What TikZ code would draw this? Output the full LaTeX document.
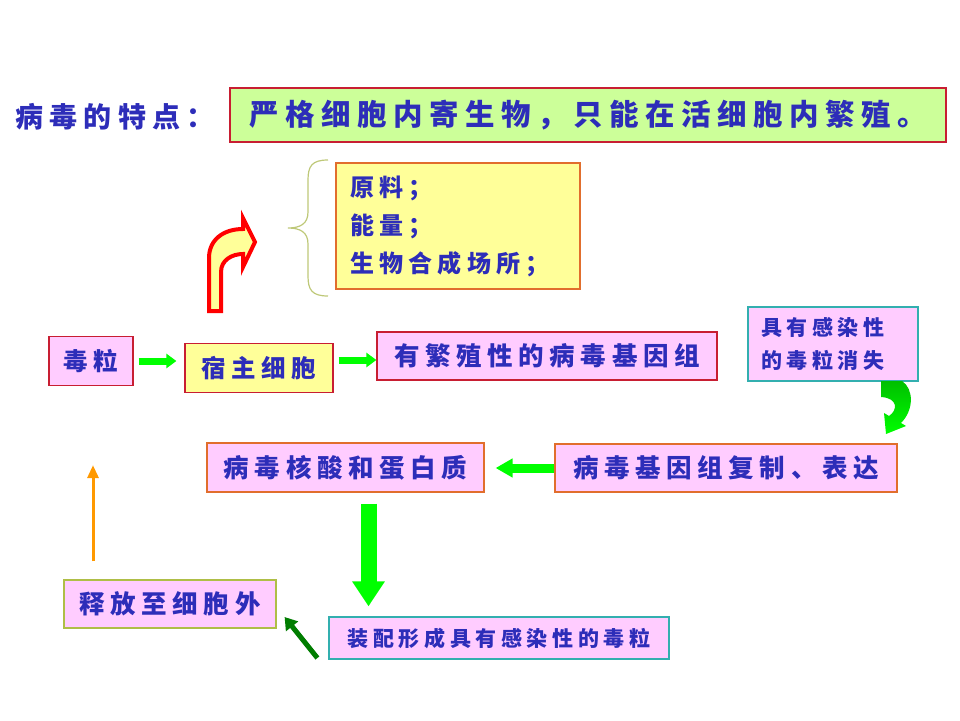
\documentclass[tikz,border=0pt]{standalone}
\usepackage{fontspec}
\newfontfamily\cjk{Noto Sans CJK SC}[LetterSpace=22]
\usetikzlibrary{arrows.meta}
\definecolor{txtblue}{RGB}{45,45,185}
\definecolor{boxpink}{RGB}{255,204,255}
\definecolor{boxyellow}{RGB}{255,255,153}
\definecolor{boxgreen}{RGB}{204,255,153}
\definecolor{edgered}{RGB}{200,30,50}
\definecolor{edgeorange}{RGB}{225,110,45}
\definecolor{edgeteal}{RGB}{50,175,175}
\definecolor{edgeolive}{RGB}{175,190,70}
\definecolor{bracecol}{RGB}{190,200,120}
\definecolor{arrgreen}{RGB}{0,255,0}
\definecolor{arrdark}{RGB}{0,125,0}
\definecolor{arrorange}{RGB}{255,153,0}
\begin{document}
\begin{tikzpicture}[x=1pt,y=-1pt,
  fs/.style={font=\cjk\bfseries\fontsize{#1}{#1}\selectfont},
  box/.style={draw,line width=1.2pt,inner sep=0pt,text=txtblue,fs=25.5},
  pinkbox/.style={box,fill=boxpink},
  yellowbox/.style={box,fill=boxyellow},
  garrow/.style={draw=arrgreen,line width=#1},
  garrow/.default=7pt]
\useasboundingbox (0,0) rectangle (960,720);
\node[text=txtblue,fs=28] (title) at (115,117) {病毒的特点：};
\node[box,fill=boxgreen,draw=edgered,minimum width=716,minimum height=54,fs=29.5] (top) at (588,115) {严格细胞内寄生物，只能在活细胞内繁殖。};
\node[yellowbox,draw=edgeorange,minimum width=244,minimum height=126,text width=216,align=left,font=\cjk\bfseries\fontsize{24}{38}\selectfont] (need) at (458,226) {原料；\\能量；\\生物合成场所；};
\node[pinkbox,draw=edgered,minimum width=84,minimum height=49,fs=24.5] (dl) at (91,361) {毒粒};
\node[yellowbox,draw=edgered,minimum width=148,minimum height=49,fs=24.5] (host) at (259,368) {宿主细胞};
\node[pinkbox,draw=edgered,minimum width=340,minimum height=48] (gen) at (547,356) {有繁殖性的病毒基因组};
\node[pinkbox,draw=edgeteal,minimum width=170,minimum height=74,text width=144,align=left,font=\cjk\bfseries\fontsize{21}{33}\selectfont] (gone) at (833,344) {具有感染性\\的毒粒消失};
\node[pinkbox,draw=edgeorange,minimum width=342,minimum height=48] (rep) at (726,468) {病毒基因组复制、表达};
\node[pinkbox,draw=edgeorange,minimum width=277,minimum height=49] (nuc) at (345.5,467.5) {病毒核酸和蛋白质};
\node[pinkbox,draw=edgeteal,minimum width=340,minimum height=42,fs=21] (asm) at (499,638) {装配形成具有感染性的毒粒};
\node[pinkbox,draw=edgeolive,minimum width=212,minimum height=48] (rel) at (170,604) {释放至细胞外};
\draw[bracecol,line width=1.2pt] (328,160) .. controls (312,160) and (308,166) .. (308,180) -- (308,212) .. controls (308,224) and (300,228) .. (288,228) .. controls (300,228) and (308,232) .. (308,244) -- (308,276) .. controls (308,290) and (312,296) .. (328,296);
\draw[red,line width=4pt,fill=boxyellow,line join=miter] (209,311) -- (209,258) .. controls (209,240) and (223,229) .. (243,229) -- (243,218) -- (255,242) -- (243,267) -- (243,254) .. controls (232,254) and (221,260) .. (221,272) -- (221,311) -- cycle;
\shade[top color=green!75!black,bottom color=arrgreen] (881,381) -- (902,381) .. controls (914,389) and (914,410) .. (901,423) -- (906,426) -- (886,434) -- (884,413) -- (889,416) .. controls (898,410) and (898,398) .. (881,397) -- cycle;
\draw[garrow,-{Triangle[length=10pt,width=14pt]},shorten <=5pt,shorten >=8pt] (dl.east) -- (dl.east -| host.west);
\draw[garrow,-{Triangle[length=10pt,width=14pt]},shorten <=5pt] ([yshift=8pt]host.east) -- ([yshift=8pt]host.east -| gen.west);
\draw[garrow=9pt,-{Triangle[length=17pt,width=18pt]},shorten >=11pt] (rep.west) -- (rep.west -| nuc.east);
\draw[garrow=16pt,-{Triangle[length=25pt,width=31pt]},shorten <=11pt,shorten >=10pt] ([xshift=23pt]nuc.south) -- ([xshift=23pt]nuc.south |- asm.north);
\draw[arrdark,line width=5pt,-{Triangle[length=12pt,width=15pt]}] ([xshift=-11pt,yshift=-20pt]asm.west) -- ([xshift=8pt,yshift=-13pt]rel.east);
\draw[arrorange,line width=3pt,-{Triangle[length=13pt,width=11pt]},shorten <=18pt,shorten >=79pt] ([xshift=-77pt]rel.north) -- ([xshift=-77pt]rel.north |- dl.south);
\end{tikzpicture}
\end{document}
